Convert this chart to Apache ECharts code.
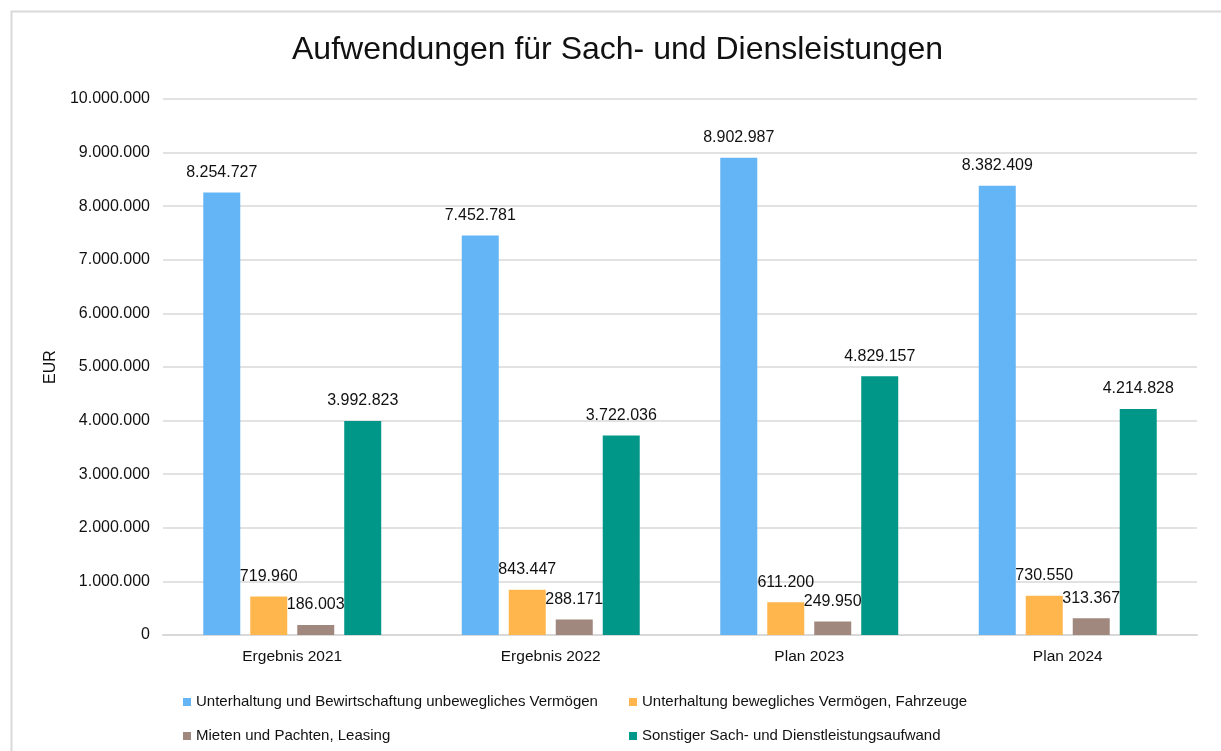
<!DOCTYPE html>
<html lang="de">
<head>
  <meta charset="UTF-8">
  <title>Aufwendungen für Sach- und Diensleistungen</title>
  <script src="https://cdn.jsdelivr.net/npm/echarts@6/dist/echarts.min.js"></script>
  <style>
    html, body { margin: 0; padding: 0; background: #fff; }
    #box { width: 1221px; height: 751px; }
  </style>
</head>
<body>
<div id="box"></div>
<script>
  // Daten
  var categories = ['Ergebnis 2021', 'Ergebnis 2022', 'Plan 2023', 'Plan 2024'];
  var seriesNames = [
    'Unterhaltung und Bewirtschaftung unbewegliches Vermögen',
    'Unterhaltung bewegliches Vermögen, Fahrzeuge',
    'Mieten und Pachten, Leasing',
    'Sonstiger Sach- und Dienstleistungsaufwand'
  ];
  var unbeweglich = [8254727, 7452781, 8902987, 8382409];
  var beweglich = [719960, 843447, 611200, 730550];
  var mieten = [186003, 288171, 249950, 313367];
  var sonstiges = [3992823, 3722036, 4829157, 4214828];
  var colors = ['#64B5F6', '#FFB74D', '#A1887F', '#009688'];

  var font = 'Liberation Sans, Arial, sans-serif';

  function fmt(v) {
    return String(v).replace(/\B(?=(\d{3})+(?!\d))/g, '.');
  }

  function bar(name, data, color) {
    return {
      name: name,
      type: 'bar',
      data: data,
      barWidth: 37,
      barGap: '27%',
      itemStyle: { color: color },
      label: {
        show: true,
        position: 'top',
        distance: 12,
        color: '#111',
        fontFamily: font,
        fontSize: 16,
        formatter: function (p) { return fmt(p.value); }
      }
    };
  }

  var chart = echarts.init(document.getElementById('box'));
  var option = {
    animation: false,
    color: colors,
    graphic: [{
      type: 'rect',
      left: 9,
      top: 9,
      shape: { width: 1300, height: 800 },
      style: { fill: 'none', stroke: '#d9d9d9', lineWidth: 2 },
      silent: true
    }],
    title: {
      text: 'Aufwendungen für Sach- und Diensleistungen',
      left: 292,
      top: 34,
      padding: 0,
      textStyle: { fontFamily: font, fontSize: 32, fontWeight: 'normal', color: '#111' }
    },
    legend: [{
      orient: 'vertical',
      left: 178,
      top: 689,
      itemWidth: 8,
      itemHeight: 8,
      itemGap: 18,
      icon: 'rect',
      data: [seriesNames[0], seriesNames[2]],
      textStyle: { fontFamily: font, fontSize: 15, color: '#111', lineHeight: 16 }
    }, {
      orient: 'vertical',
      left: 624,
      top: 689,
      itemWidth: 8,
      itemHeight: 8,
      itemGap: 18,
      icon: 'rect',
      data: [seriesNames[1], seriesNames[3]],
      textStyle: { fontFamily: font, fontSize: 15, color: '#111', lineHeight: 16 }
    }],
    grid: { left: 163, right: 24, top: 99, bottom: 116, containLabel: false },
    xAxis: {
      type: 'category',
      data: categories,
      axisTick: { show: false },
      axisLine: { lineStyle: { color: '#d9d9d9', width: 2 } },
      axisLabel: { color: '#111', fontFamily: font, fontSize: 15.5, margin: 14 }
    },
    yAxis: {
      type: 'value',
      min: 0,
      max: 10000000,
      interval: 1000000,
      name: 'EUR',
      nameLocation: 'middle',
      nameGap: 98,
      nameTextStyle: { color: '#111', fontFamily: font, fontSize: 16 },
      axisLine: { show: false },
      axisTick: { show: false },
      splitLine: { lineStyle: { color: '#d9d9d9', width: 1.5 } },
      axisLabel: {
        color: '#111',
        fontFamily: font,
        fontSize: 16,
        margin: 13,
        formatter: function (v) { return fmt(v); }
      }
    },
    series: [
      bar(seriesNames[0], unbeweglich, colors[0]),
      bar(seriesNames[1], beweglich, colors[1]),
      bar(seriesNames[2], mieten, colors[2]),
      bar(seriesNames[3], sonstiges, colors[3])
    ]
  };
  chart.setOption(option);
</script>
</body>
</html>
